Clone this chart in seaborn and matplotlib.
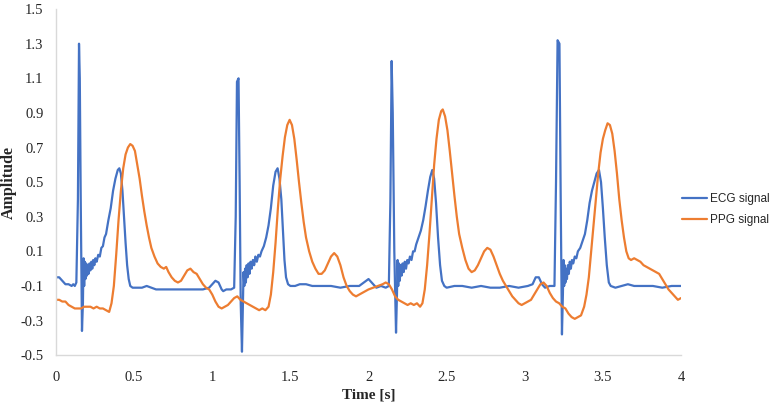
import matplotlib
matplotlib.use("Agg")
import matplotlib.pyplot as plt
import seaborn as sns

# ECG signal, points (time s, amplitude)
ecg_t = [0.00, 0.02, 0.04, 0.06, 0.08, 0.10, 0.11, 0.12, 0.13, 0.14, 0.147, 0.152, 0.158, 0.166,
         0.172, 0.176, 0.180, 0.184, 0.188, 0.193, 0.198, 0.203, 0.208, 0.214, 0.220, 0.226, 0.232,
         0.238, 0.245, 0.252, 0.260, 0.270, 0.280, 0.290, 0.300, 0.310, 0.320, 0.335, 0.350, 0.365,
         0.380, 0.395, 0.405, 0.415, 0.425, 0.435, 0.445, 0.455, 0.465, 0.475, 0.49, 0.52, 0.55,
         0.58, 0.61, 0.64, 0.70, 0.76, 0.82, 0.88, 0.94, 0.98, 1.00, 1.02, 1.04, 1.06, 1.07, 1.09,
         1.12, 1.14, 1.15, 1.158, 1.168, 1.175, 1.182, 1.19, 1.196, 1.200, 1.205, 1.210, 1.215,
         1.220, 1.226, 1.232, 1.238, 1.245, 1.252, 1.260, 1.268, 1.276, 1.285, 1.295, 1.305, 1.315,
         1.330, 1.345, 1.360, 1.375, 1.390, 1.405, 1.418, 1.430, 1.442, 1.452, 1.462, 1.472, 1.485,
         1.50, 1.53, 1.56, 1.60, 1.64, 1.70, 1.76, 1.82, 1.88, 1.94, 1.97, 2.00, 2.02, 2.05, 2.08,
         2.11, 2.13, 2.140, 2.148, 2.155, 2.165, 2.176, 2.182, 2.186, 2.190, 2.195, 2.200, 2.206,
         2.212, 2.218, 2.225, 2.232, 2.240, 2.248, 2.256, 2.265, 2.275, 2.285, 2.295, 2.305, 2.320,
         2.335, 2.350, 2.365, 2.380, 2.395, 2.408, 2.420, 2.432, 2.445, 2.458, 2.470, 2.485, 2.50,
         2.55, 2.60, 2.66, 2.72, 2.78, 2.84, 2.90, 2.96, 3.02, 3.05, 3.07, 3.09, 3.11, 3.13, 3.16,
         3.19, 3.200, 3.210, 3.222, 3.230, 3.238, 3.244, 3.248, 3.252, 3.256, 3.260, 3.265, 3.270,
         3.276, 3.282, 3.288, 3.295, 3.302, 3.310, 3.320, 3.330, 3.340, 3.355, 3.370, 3.385, 3.400,
         3.415, 3.430, 3.445, 3.460, 3.475, 3.488, 3.500, 3.512, 3.525, 3.538, 3.550, 3.58, 3.62,
         3.66, 3.70, 3.76, 3.82, 3.88, 3.94, 4.00]
ecg_amp = [-0.05, -0.05, -0.07, -0.09, -0.09, -0.10, -0.09, -0.10, -0.08, 0.40, 1.30, 1.10, 0.40, -0.36,
           -0.20, 0.06, -0.10, 0.04, -0.06, 0.03, -0.04, 0.02, -0.03, 0.03, -0.01, 0.04, 0.00,
           0.05, 0.02, 0.06, 0.04, 0.08, 0.07, 0.12, 0.13, 0.18, 0.20, 0.28, 0.35, 0.45,
           0.52, 0.57, 0.58, 0.55, 0.45, 0.30, 0.15, 0.02, -0.06, -0.10, -0.11, -0.11, -0.11,
           -0.10, -0.11, -0.12, -0.12, -0.12, -0.12, -0.12, -0.12, -0.11, -0.09, -0.07, -0.08, -0.12, -0.13, -0.12,
           -0.12, -0.11, 0.30, 1.08, 1.10, 0.50, -0.20, -0.48, -0.20, -0.02, -0.10, 0.00, -0.08,
           0.02, -0.05, 0.03, -0.03, 0.04, 0.00, 0.05, 0.02, 0.07, 0.04, 0.08, 0.07, 0.10,
           0.13, 0.18, 0.25, 0.35, 0.48, 0.56, 0.58, 0.52, 0.40, 0.22, 0.05, -0.05, -0.09,
           -0.10, -0.10, -0.09, -0.09, -0.10, -0.10, -0.10, -0.11, -0.10, -0.10, -0.08, -0.06, -0.08, -0.11, -0.10,
           -0.11, -0.10, 0.40, 1.20, 0.90, 0.10, -0.37, -0.15, 0.05, -0.10, 0.03, -0.07, 0.02,
           -0.04, 0.03, -0.02, 0.04, 0.00, 0.05, 0.03, 0.07, 0.05, 0.10, 0.10, 0.14, 0.18,
           0.22, 0.28, 0.36, 0.45, 0.53, 0.57, 0.52, 0.38, 0.18, 0.02, -0.07, -0.10, -0.11,
           -0.10, -0.10, -0.11, -0.10, -0.11, -0.11, -0.10, -0.11, -0.10, -0.09, -0.05, -0.05, -0.09, -0.11, -0.10,
           -0.10, 0.50, 1.32, 1.30, 0.40, -0.38, -0.15, 0.05, -0.10, 0.02, -0.08, 0.00, -0.06,
           0.02, -0.03, 0.04, 0.00, 0.05, 0.03, 0.07, 0.06, 0.10, 0.12, 0.16, 0.20, 0.28,
           0.38, 0.45, 0.50, 0.55, 0.57, 0.50, 0.35, 0.18, 0.02, -0.08, -0.10, -0.11, -0.10,
           -0.09, -0.10, -0.10, -0.10, -0.11, -0.10, -0.10]

# PPG signal
ppg_t = [0.00, 0.02, 0.04, 0.06, 0.08, 0.10, 0.12, 0.14, 0.16, 0.18, 0.20, 0.22, 0.24, 0.26, 0.28,
         0.30, 0.32, 0.34, 0.355, 0.37, 0.385, 0.40, 0.415, 0.43, 0.445, 0.46, 0.475, 0.49, 0.505,
         0.52, 0.535, 0.55, 0.565, 0.58, 0.595, 0.61, 0.63, 0.65, 0.67, 0.69, 0.705, 0.72, 0.74,
         0.76, 0.78, 0.80, 0.82, 0.84, 0.86, 0.88, 0.90, 0.92, 0.94, 0.96, 0.98, 1.00, 1.02, 1.04,
         1.06, 1.08, 1.10, 1.12, 1.14, 1.16, 1.18, 1.20, 1.22, 1.24, 1.26, 1.28, 1.30, 1.32, 1.34,
         1.36, 1.375, 1.39, 1.405, 1.42, 1.435, 1.45, 1.465, 1.48, 1.495, 1.51, 1.525, 1.54, 1.555,
         1.57, 1.585, 1.60, 1.62, 1.64, 1.66, 1.68, 1.70, 1.72, 1.74, 1.76, 1.78, 1.80, 1.82, 1.84,
         1.86, 1.88, 1.90, 1.92, 1.94, 1.96, 1.98, 2.00, 2.03, 2.06, 2.09, 2.11, 2.13, 2.15, 2.17,
         2.19, 2.21, 2.23, 2.25, 2.27, 2.29, 2.31, 2.33, 2.345, 2.36, 2.375, 2.39, 2.405, 2.42,
         2.435, 2.45, 2.465, 2.475, 2.49, 2.505, 2.52, 2.535, 2.55, 2.565, 2.58, 2.60, 2.62, 2.64,
         2.66, 2.68, 2.70, 2.72, 2.74, 2.76, 2.78, 2.80, 2.82, 2.84, 2.86, 2.88, 2.90, 2.92, 2.94,
         2.96, 2.98, 3.00, 3.02, 3.04, 3.06, 3.08, 3.10, 3.12, 3.14, 3.16, 3.18, 3.20, 3.22, 3.24,
         3.26, 3.28, 3.30, 3.32, 3.34, 3.36, 3.38, 3.395, 3.41, 3.425, 3.44, 3.455, 3.47, 3.485,
         3.50, 3.515, 3.53, 3.545, 3.56, 3.575, 3.59, 3.605, 3.62, 3.635, 3.65, 3.665, 3.68, 3.70,
         3.72, 3.74, 3.76, 3.78, 3.80, 3.82, 3.84, 3.86, 3.88, 3.90, 3.92, 3.94, 3.96, 3.98, 4.00]
ppg_amp = [-0.18, -0.18, -0.19, -0.19, -0.21, -0.22, -0.23, -0.23, -0.23, -0.22, -0.22, -0.22, -0.23, -0.22, -0.23,
           -0.23, -0.24, -0.25, -0.20, -0.10, 0.08, 0.28, 0.45, 0.58, 0.66, 0.70, 0.72, 0.71, 0.68,
           0.60, 0.52, 0.42, 0.33, 0.25, 0.18, 0.12, 0.07, 0.03, 0.01, 0.00, 0.01, -0.02, -0.05,
           -0.07, -0.08, -0.07, -0.04, -0.01, 0.00, -0.02, -0.03, -0.06, -0.09, -0.11, -0.12, -0.15, -0.19, -0.22,
           -0.23, -0.22, -0.21, -0.19, -0.17, -0.16, -0.18, -0.19, -0.20, -0.21, -0.22, -0.23, -0.24, -0.23, -0.24,
           -0.22, -0.15, -0.02, 0.15, 0.35, 0.52, 0.65, 0.76, 0.83, 0.86, 0.83, 0.75, 0.63, 0.50,
           0.38, 0.27, 0.18, 0.10, 0.04, 0.00, -0.03, -0.03, -0.01, 0.03, 0.07, 0.09, 0.07, 0.02, -0.05,
           -0.10, -0.13, -0.15, -0.16, -0.15, -0.14, -0.13, -0.12, -0.11, -0.10, -0.09, -0.08, -0.09, -0.12, -0.16,
           -0.18, -0.19, -0.20, -0.21, -0.20, -0.21, -0.20, -0.22, -0.20, -0.12, 0.02, 0.20, 0.40, 0.60,
           0.75, 0.86, 0.91, 0.92, 0.88, 0.80, 0.68, 0.55, 0.42, 0.30, 0.20, 0.12, 0.05, 0.00,
           -0.02, -0.01, 0.02, 0.06, 0.10, 0.12, 0.11, 0.07, 0.02, -0.03, -0.07, -0.10, -0.13, -0.16, -0.18,
           -0.20, -0.21, -0.20, -0.19, -0.18, -0.15, -0.12, -0.09, -0.08, -0.10, -0.14, -0.17, -0.19, -0.20, -0.22,
           -0.23, -0.26, -0.28, -0.29, -0.28, -0.27, -0.22, -0.15, -0.05, 0.10, 0.25, 0.40, 0.55, 0.67,
           0.75, 0.80, 0.84, 0.83, 0.78, 0.68, 0.55, 0.40, 0.28, 0.18, 0.10, 0.06, 0.05, 0.06,
           0.05, 0.04, 0.02, 0.01, 0.00, -0.01, -0.02, -0.03, -0.06, -0.09, -0.12, -0.14, -0.16, -0.18, -0.17]

x_ticks = [0, 0.5, 1, 1.5, 2, 2.5, 3, 3.5, 4]
x_tick_labels = ["0", "0.5", "1", "1.5", "2", "2.5", "3", "3.5", "4"]
y_ticks = [-0.5, -0.3, -0.1, 0.1, 0.3, 0.5, 0.7, 0.9, 1.1, 1.3, 1.5]
y_tick_labels = ["-0.5", "-0.3", "-0.1", "0.1", "0.3", "0.5", "0.7", "0.9", "1.1", "1.3", "1.5"]

sns.set_style("white")
plt.rcParams["font.family"] = ["Liberation Serif", "DejaVu Serif"]

fig = plt.figure(figsize=(7.73, 4.13), dpi=100)
ax = fig.add_axes([0.0725, 0.14, 0.8085, 0.838])

sns.lineplot(x=ecg_t, y=ecg_amp, ax=ax, color="#4472C4", linewidth=1.6, label="ECG signal", sort=False)
sns.lineplot(x=ppg_t, y=ppg_amp, ax=ax, color="#ED7D31", linewidth=1.6, label="PPG signal", sort=False)

ax.set_xlim(0, 4)
ax.set_ylim(-0.5, 1.5)
ax.set_xticks(x_ticks)
ax.set_xticklabels(x_tick_labels, fontsize=10.5)
ax.set_yticks(y_ticks)
ax.set_yticklabels(y_tick_labels, fontsize=10.5)
ax.tick_params(axis="x", direction="inout", length=7, color="#D9D9D9", width=1, pad=8)
ax.tick_params(axis="y", direction="out", length=4, color="#D9D9D9", width=1, pad=5)

for s in ["top", "right"]:
    ax.spines[s].set_visible(False)
for s in ["left", "bottom"]:
    ax.spines[s].set_color("#D9D9D9")
    ax.spines[s].set_linewidth(1)

ax.set_xlabel("Time [s]", fontsize=11, fontweight="bold")
ax.set_ylabel("Amplitude", fontsize=11.5, fontweight="bold")
ax.xaxis.set_label_coords(0.5, -0.095)
ax.yaxis.set_label_coords(-0.062, 0.5)

leg = ax.legend(loc="center left", bbox_to_anchor=(1.0, 0.42), frameon=False,
                prop={"family": "Liberation Sans", "size": 8.5}, handlelength=2.1,
                handletextpad=0.25, labelspacing=0.78, borderaxespad=0, borderpad=0.1)

fig.savefig("out.png", dpi=100)
